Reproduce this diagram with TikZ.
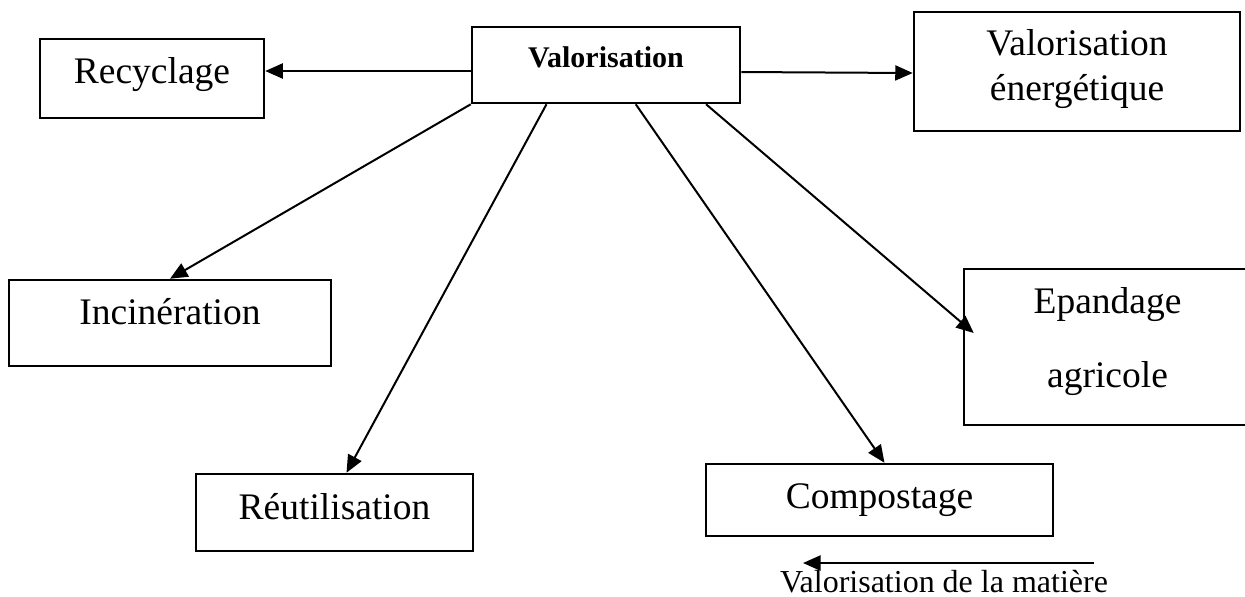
\documentclass[tikz,border=0pt]{standalone}
\usepackage{fontspec}
\setmainfont{Liberation Serif}
\usetikzlibrary{positioning,arrows.meta,calc}

\begin{document}
\begin{tikzpicture}[
    x=0.4pt,y=-0.4pt,
    >={Triangle[length=7pt,width=6pt]},
    box/.style={
        draw,
        line width=1pt,
        inner xsep=0pt,
        inner ysep=0pt,
        align=center,
        font=\fontsize{15}{18}\selectfont
    },
    arrow/.style={->,line width=0.8pt}
]

\useasboundingbox (0,0) rectangle (1245,596);

%------------------------------------------------
% Centre
%------------------------------------------------

\node[box,minimum width=107.2pt,text height=16pt,text depth=14.4pt,
      font=\fontsize{12}{14}\selectfont\bfseries] (val) at (606,65) {Valorisation};

%------------------------------------------------
% Top row
%------------------------------------------------

\node[box,minimum width=89.6pt,text height=17.6pt,text depth=14pt] (rec) at (152,78.5)
{Recyclage};

\node[box,minimum width=130.4pt,text height=35.2pt,text depth=12.4pt] (ene) at (1077,71.5)
{Valorisation\\énergétique};

\draw[arrow] ($(val.west)+(0,6)$) -- ($(rec.east)+(0,-7.5)$);
\draw[arrow] ($(val.east)+(0,7)$) -- ($(ene.west)+(0,1.5)$);

%------------------------------------------------
% Lower boxes
%------------------------------------------------

\node[box,minimum width=128.8pt,text height=17.6pt,text depth=16.8pt] (inc) at (170,323)
{Incinération};

\node[box,minimum width=110.8pt,text height=18pt,text depth=12.8pt] (reu) at (334.5,512.5)
{Réutilisation};

\node[box,minimum width=138.8pt,text height=17.6pt,text depth=11.2pt] (comp) at (879.5,500)
{Compostage};

\node[box,minimum width=114.8pt,text height=47.2pt,text depth=15.2pt,
      font=\fontsize{15}{29.6}\selectfont] (ep) at (1107.5,347)
{Epandage\\agricole};

\draw[arrow] (val.south west) -- (inc.north);
\draw[arrow] ($(val.south west)!0.28!(val.south east)$) -- ($(reu.north)+(12,0)$);
\draw[arrow] ($(val.south west)!0.61!(val.south east)$) -- ($(comp.north)+(5,0)$);
\draw[arrow] ($(val.south west)!0.87!(val.south east)$) -- ($(ep.west)+(11,-14)$);

%------------------------------------------------
% Legend
%------------------------------------------------

\node[anchor=base,inner sep=0pt,font=\fontsize{12.8}{14}\selectfont] (matiere) at (944,592)
{Valorisation de la matière};

\coordinate (mstart) at (1094,563);
\coordinate (mend) at (803,563);
\draw[arrow] (mstart) -- (mend);

\end{tikzpicture}
\end{document}
